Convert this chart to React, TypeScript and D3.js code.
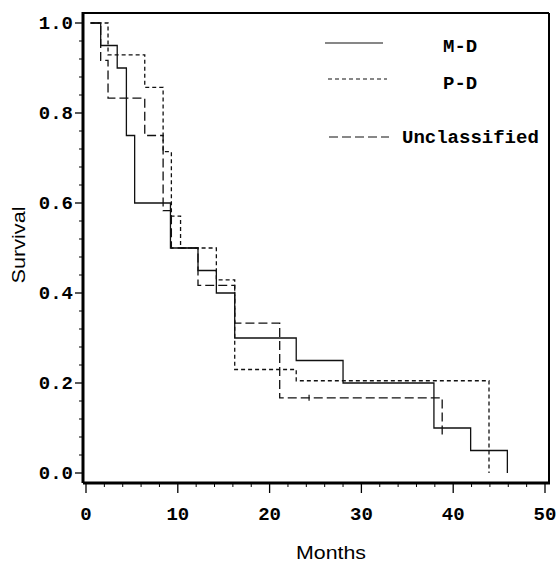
import React from "react";
import * as d3 from "d3";

// ---- data ----
const seriesNames = ["M-D", "P-D", "Unclassified"];
const startMonth = 0.5;

const mdTimes = [1.6, 3.4, 4.4, 5.3, 9.2, 12.2, 14.2, 16.2, 22.9, 28.0, 37.9, 41.9, 45.9];
const mdSurv = [0.95, 0.9, 0.75, 0.6, 0.5, 0.45, 0.4, 0.3, 0.25, 0.2, 0.1, 0.05, 0.0];

const pdTimes = [2.4, 6.4, 8.4, 9.3, 10.3, 14.2, 16.2, 22.9, 43.9];
const pdSurv = [0.929, 0.857, 0.714, 0.571, 0.5, 0.429, 0.23, 0.205, 0.0];

const ucTimes = [1.6, 2.4, 6.4, 8.4, 9.3, 12.2, 16.2, 21.1, 38.8];
const ucSurv = [0.917, 0.833, 0.75, 0.583, 0.5, 0.417, 0.333, 0.167, 0.083];
const ucCensorTimes = [24.3];
const ucCensorSurv = [0.167];

const xMajorTicks = [0, 10, 20, 30, 40, 50];
const yMajorTicks = [0.0, 0.2, 0.4, 0.6, 0.8, 1.0];

// ---- layout ----
const W = 556;
const H = 564;
const frame = { left: 83, right: 549, top: 13, bottom: 483 };

const x = d3.scaleLinear().domain([0, 50]).range([86, 545]);
const y = d3.scaleLinear().domain([0, 1]).range([473, 23]);

const mono = "'Liberation Mono', 'Courier New', monospace";
const sans = "'Liberation Sans', Arial, sans-serif";

const styles = [
  { dash: undefined as string | undefined },
  { dash: "4,3" },
  { dash: "9,4" },
];

function stepPath(times: number[], surv: number[]) {
  const pts: [number, number][] = [[startMonth, 1]];
  times.forEach((t, i) => pts.push([t, surv[i]]));
  const line = d3
    .line<[number, number]>()
    .x((d) => x(d[0]))
    .y((d) => y(d[1]))
    .curve(d3.curveStepAfter);
  return line(pts) || "";
}

export default function App() {
  const series = [
    { times: mdTimes, surv: mdSurv },
    { times: pdTimes, surv: pdSurv },
    { times: ucTimes, surv: ucSurv },
  ];
  const xMinor = d3.range(0, 51, 2).filter((v) => v % 10 !== 0);
  const yMinor = d3.range(0, 1.0001, 0.04).filter((v) => Math.abs((v * 5) - Math.round(v * 5)) > 1e-6);

  const legend = [
    { x1: 325, x2: 383, ly: 43, tx: 443, ty: 52 },
    { x1: 328, x2: 387, ly: 79, tx: 443, ty: 89 },
    { x1: 329, x2: 389, ly: 137, tx: 402, ty: 143 },
  ];

  return (
    <svg width={W} height={H} style={{ display: "block", position: "absolute", left: 0, top: 0 }}>
      <rect x={0} y={0} width={W} height={H} fill="#fff" />
      {/* frame */}
      <line x1={frame.left} y1={frame.top} x2={frame.right} y2={frame.top} stroke="#000" strokeWidth={2} />
      <line x1={frame.right} y1={frame.top} x2={frame.right} y2={frame.bottom} stroke="#000" strokeWidth={2} />
      <line x1={frame.left} y1={frame.bottom} x2={frame.right + 1} y2={frame.bottom} stroke="#000" strokeWidth={3} />
      <line x1={frame.left} y1={frame.top - 1} x2={frame.left} y2={frame.bottom} stroke="#000" strokeWidth={3} />

      {/* x ticks */}
      {xMajorTicks.map((t) => (
        <g key={"xt" + t}>
          <line x1={x(t)} x2={x(t)} y1={frame.bottom} y2={frame.bottom + 10} stroke="#000" strokeWidth={1.3} />
          <text x={x(t)} y={520} textAnchor="middle" fontFamily={mono} fontWeight="bold" fontSize={19}>
            {t}
          </text>
        </g>
      ))}
      {xMinor.map((t) => (
        <line key={"xm" + t} x1={x(t)} x2={x(t)} y1={frame.bottom} y2={frame.bottom + 4} stroke="#000" strokeWidth={1} />
      ))}

      {/* y ticks */}
      {yMajorTicks.map((t) => (
        <g key={"yt" + t}>
          <line x1={frame.left - 8} x2={frame.left} y1={y(t)} y2={y(t)} stroke="#000" strokeWidth={1.3} />
          <text x={73} y={y(t) + 6} textAnchor="end" fontFamily={mono} fontWeight="bold" fontSize={19}>
            {t.toFixed(1)}
          </text>
        </g>
      ))}
      {yMinor.map((t) => (
        <line key={"ym" + t} x1={frame.left - 4} x2={frame.left} y1={y(t)} y2={y(t)} stroke="#000" strokeWidth={1} />
      ))}

      {/* curves */}
      {series.map((s, i) => (
        <path
          key={"s" + i}
          d={stepPath(s.times, s.surv)}
          fill="none"
          stroke="#111"
          strokeWidth={1.3}
          strokeDasharray={styles[i].dash}
        />
      ))}
      {ucCensorTimes.map((t, i) => (
        <line key={"c" + i} x1={x(t)} x2={x(t)} y1={y(ucCensorSurv[i]) - 3} y2={y(ucCensorSurv[i]) + 3} stroke="#111" strokeWidth={1.2} />
      ))}

      {/* legend */}
      {seriesNames.map((name, i) => (
        <g key={"lg" + i}>
          <line
            x1={legend[i].x1}
            x2={legend[i].x2}
            y1={legend[i].ly}
            y2={legend[i].ly}
            stroke="#111"
            strokeWidth={1.2}
            strokeDasharray={styles[i].dash}
          />
          <text x={legend[i].tx} y={legend[i].ty} fontFamily={mono} fontWeight="bold" fontSize={19}>
            {name}
          </text>
        </g>
      ))}

      {/* axis titles */}
      <text x={331} y={559} textAnchor="middle" fontFamily={sans} fontSize={19} textLength={70} lengthAdjust="spacingAndGlyphs">
        Months
      </text>
      <text
        transform={`translate(25,245) rotate(-90)`}
        textAnchor="middle"
        fontFamily={sans}
        fontSize={19}
        textLength={77}
        lengthAdjust="spacingAndGlyphs"
      >
        Survival
      </text>
    </svg>
  );
}
